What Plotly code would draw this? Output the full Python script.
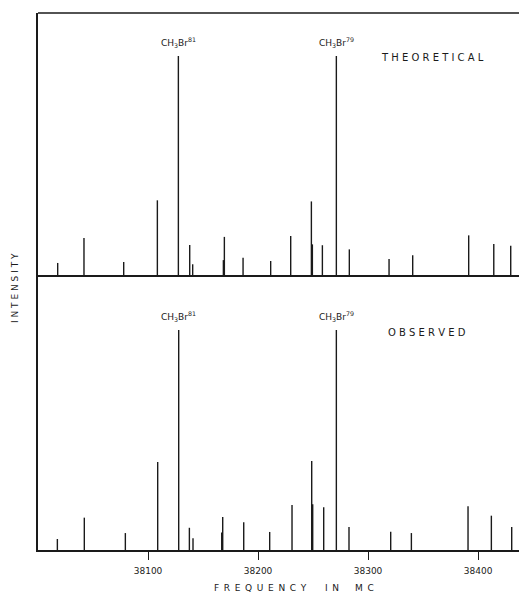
import plotly.graph_objects as go

# ---- data ----
theo_freq = [38017.9, 38041.8, 38077.9, 38108.5, 38127.6, 38137.9, 38140.6, 38168.5, 38169.4,
             38186.4, 38211.5, 38229.7, 38248.5, 38249.4, 38258.5, 38271.2, 38283.0, 38319.1,
             38340.6, 38391.5, 38414.3, 38429.7]
theo_int = [0.055, 0.169, 0.059, 0.341, 1.0, 0.137, 0.049, 0.068, 0.174,
            0.079, 0.064, 0.178, 0.336, 0.140, 0.136, 1.0, 0.117, 0.073,
            0.090, 0.181, 0.142, 0.134]

obs_freq = [38017.6, 38042.1, 38079.4, 38108.8, 38127.9, 38137.6, 38140.9, 38167.0, 38167.9,
            38187.0, 38210.6, 38230.9, 38248.8, 38249.7, 38259.7, 38271.2, 38282.7, 38320.6,
            38339.4, 38390.9, 38412.1, 38430.6]
obs_int = [0.050, 0.147, 0.077, 0.400, 1.0, 0.101, 0.053, 0.080, 0.150,
           0.126, 0.082, 0.205, 0.405, 0.208, 0.194, 1.0, 0.105, 0.083,
           0.077, 0.199, 0.156, 0.105]

tick_vals = [38100, 38200, 38300, 38400]
tick_text = ["38100", "38200", "38300", "38400"]

label_81 = "CH<sub>3</sub>Br<sup>81</sup>"
label_79 = "CH<sub>3</sub>Br<sup>79</sup>"
peak_81 = 38127.8
peak_79 = 38271.2

x_title_words = ["FREQUENCY", "IN", "MC"]
x_title_centers = [260, 332, 364]  # page pixels

INK = "#1a1a1a"
FONT = "DejaVu Sans"


def spaced(word):
    return " \u2009".join(word)


def sticks(freqs, ints):
    xs, ys = [], []
    for f, h in zip(freqs, ints):
        xs += [f, f, None]
        ys += [0, h, None]
    return xs, ys


fig = go.Figure()
tx, ty = sticks(theo_freq, theo_int)
ox, oy = sticks(obs_freq, obs_int)
fig.add_trace(go.Scatter(x=tx, y=ty, mode="lines", line=dict(color=INK, width=1.4),
                         xaxis="x2", yaxis="y2", showlegend=False, hoverinfo="skip"))
fig.add_trace(go.Scatter(x=ox, y=oy, mode="lines", line=dict(color=INK, width=1.4),
                         xaxis="x", yaxis="y", showlegend=False, hoverinfo="skip"))

# page body has an 8px margin, so the figure is shifted by 8px
OFF = 8
W, H = 527 - OFF, 595 - OFF
ML, MT, MB = 38 - OFF, 13 - OFF, 45
PH = H - MT - MB  # 537
PW = W - ML       # 489
split = 275 / PH
xr = [38000, 38444.5]


def px_x(page_x):
    return (page_x - 38) / PW


def px_y(page_y):
    return (550 - page_y) / PH


fig.update_layout(
    width=W, height=H,
    margin=dict(l=ML, r=0, t=MT, b=MB),
    paper_bgcolor="white", plot_bgcolor="white",
    font=dict(family=FONT, color=INK, size=9),
    xaxis=dict(domain=[0, 1], range=xr, anchor="y", showline=True, linecolor=INK, linewidth=1.6,
               ticks="outside", ticklen=8, tickwidth=1.3, tickcolor=INK,
               tickvals=tick_vals, ticktext=tick_text, ticklabelstandoff=3,
               tickfont=dict(size=9, family=FONT, color=INK),
               showgrid=False, zeroline=False),
    yaxis=dict(domain=[0, split], range=[0, 1.25], showline=True, linecolor=INK, linewidth=1.6,
               showticklabels=False, ticks="", showgrid=False, zeroline=False),
    xaxis2=dict(domain=[0, 1], range=xr, anchor="y2", matches="x", showline=True, linecolor=INK,
                linewidth=1.6, showticklabels=False, ticks="", showgrid=False, zeroline=False),
    yaxis2=dict(domain=[split, 1], range=[0, 262 / 219], showline=True, linecolor=INK, linewidth=1.6,
                showticklabels=False, ticks="", showgrid=False, zeroline=False),
    shapes=[dict(type="line", xref="paper", yref="paper", x0=0, x1=1, y0=1, y1=1,
                 line=dict(color=INK, width=1.6))],
)

ann = []
for xa, ya, lab, pk in [("x2", "y2", label_81, peak_81), ("x2", "y2", label_79, peak_79),
                        ("x", "y", label_81, peak_81), ("x", "y", label_79, peak_79)]:
    ann.append(dict(x=pk, y=1.0, xref=xa, yref=ya, text=lab, showarrow=False,
                    yanchor="bottom", yshift=5, font=dict(size=9, family=FONT, color=INK)))
ann.append(dict(x=38359, y=0.995, xref="x2", yref="y2", text="T H E O R E T I C A L",
                showarrow=False, font=dict(size=10, family=FONT, color=INK)))
ann.append(dict(x=38354, y=0.99, xref="x", yref="y", text="O B S E R V E D",
                showarrow=False, font=dict(size=10, family=FONT, color=INK)))
ann.append(dict(x=px_x(15), y=px_y(288), xref="paper", yref="paper",
                xanchor="center", yanchor="middle",
                text="I N T E N S I T Y", textangle=-90, showarrow=False,
                font=dict(size=9, family=FONT, color=INK)))
for word, cx in zip(x_title_words, x_title_centers):
    ann.append(dict(x=px_x(cx), y=px_y(588), xref="paper", yref="paper",
                    xanchor="center", yanchor="middle", text=spaced(word), showarrow=False,
                    font=dict(size=9, family=FONT, color=INK)))
fig.update_layout(annotations=ann)

fig.write_html("out.html")
